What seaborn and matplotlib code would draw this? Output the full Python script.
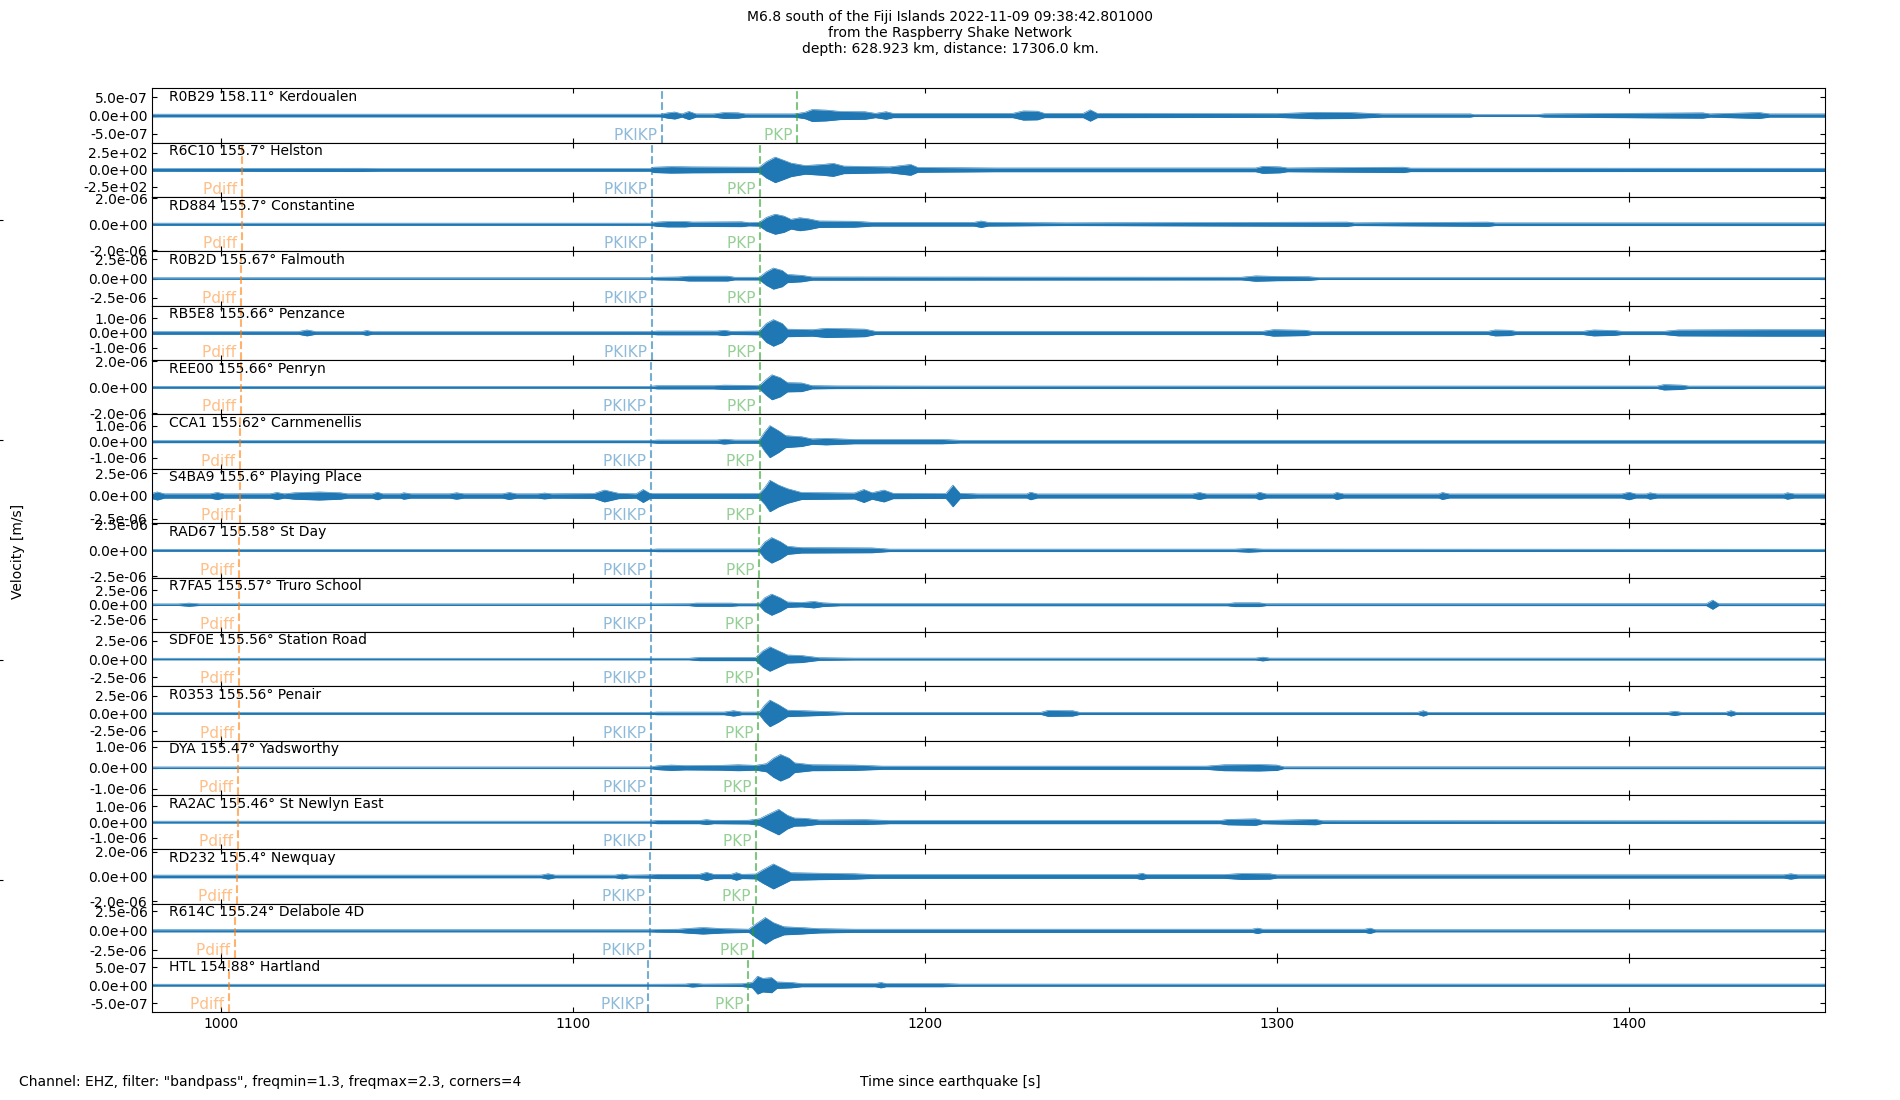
import numpy as np
import matplotlib
matplotlib.use("Agg")
import matplotlib.pyplot as plt
from matplotlib.ticker import FormatStrFormatter
import seaborn as sns

plt.rcParams['font.family'] = ['DejaVu Sans']

# station metadata, top to bottom
stations = ["R0B29", "R6C10", "RD884", "R0B2D", "RB5E8", "REE00", "CCA1", "S4BA9", "RAD67",
            "R7FA5", "SDF0E", "R0353", "DYA", "RA2AC", "RD232", "R614C", "HTL"]
distances = ["158.11", "155.7", "155.7", "155.67", "155.66", "155.66", "155.62", "155.6", "155.58",
             "155.57", "155.56", "155.56", "155.47", "155.46", "155.4", "155.24", "154.88"]
places = ["Kerdoualen", "Helston", "Constantine", "Falmouth", "Penzance", "Penryn", "Carnmenellis",
          "Playing Place", "St Day", "Truro School", "Station Road", "Penair", "Yadsworthy",
          "St Newlyn East", "Newquay", "Delabole 4D", "Hartland"]

# y range and tick value per station (m/s, R6C10 in counts)
y_limits = [7.4e-7, 400, 2.08e-6, 3.5e-6, 1.85e-6, 2.09e-6, 1.69e-6, 3.0e-6, 2.63e-6,
            4.74e-6, 3.68e-6, 3.9e-6, 1.3e-6, 1.72e-6, 2.19e-6, 3.47e-6, 7.5e-7]
y_ticks = [5e-7, 250, 2e-6, 2.5e-6, 1e-6, 2e-6, 1e-6, 2.5e-6, 2.5e-6,
           2.5e-6, 2.5e-6, 2.5e-6, 1e-6, 1e-6, 2e-6, 2.5e-6, 5e-7]

# predicted arrivals [s after origin]
pdiff_times = [None, 1006.0, 1006.0, 1005.8, 1005.7, 1005.7, 1005.5, 1005.4, 1005.3,
               1005.3, 1005.2, 1005.2, 1004.9, 1004.8, 1004.6, 1004.0, 1002.3]
pkikp_times = [1125.4, 1122.6, 1122.6, 1122.6, 1122.4, 1122.3, 1122.3, 1122.3, 1122.3,
               1122.2, 1122.2, 1122.2, 1122.2, 1122.1, 1122.0, 1122.0, 1121.5]
pkp_times = [1163.8, 1153.3, 1153.3, 1153.3, 1153.3, 1153.3, 1153.1, 1153.1, 1153.0,
             1152.7, 1152.6, 1152.6, 1152.2, 1152.2, 1152.0, 1151.3, 1149.8]

# trace envelopes: times [s] and half-amplitude as fraction of the y range
r0b29_t = [980, 1125, 1127, 1129, 1131, 1133, 1135, 1140, 1143, 1147, 1149, 1163, 1166, 1168, 1172, 1176,
           1183, 1186, 1189, 1191, 1225, 1228, 1232, 1234, 1245, 1247, 1249, 1300, 1311, 1321, 1330,
           1355, 1356, 1374, 1376, 1421, 1423, 1437, 1440, 1456]
r0b29_a = [0.05, 0.05, 0.10, 0.13, 0.06, 0.15, 0.06, 0.06, 0.11, 0.10, 0.06, 0.06, 0.12, 0.22, 0.20, 0.15,
           0.14, 0.08, 0.14, 0.08, 0.08, 0.17, 0.16, 0.08, 0.08, 0.21, 0.08, 0.07, 0.12, 0.11, 0.06,
           0.06, 0.035, 0.035, 0.06, 0.10, 0.06, 0.11, 0.06, 0.06]
r6c10_t = [980, 1040, 1045, 1122, 1123, 1128, 1134, 1153, 1155, 1157.5, 1160, 1162, 1166, 1171, 1174, 1177,
           1190, 1196, 1198, 1220, 1294, 1296, 1301, 1303, 1336, 1338, 1456]
r6c10_a = [0.05, 0.06, 0.05, 0.05, 0.10, 0.12, 0.11, 0.10, 0.30, 0.47, 0.35, 0.25, 0.16, 0.20, 0.24, 0.14,
           0.11, 0.20, 0.09, 0.07, 0.07, 0.13, 0.11, 0.07, 0.10, 0.065, 0.06]
rd884_t = [980, 1122, 1124, 1127, 1132, 1134, 1148, 1150, 1153, 1155, 1157.5, 1160, 1162, 1164.5, 1167,
           1170, 1180, 1185, 1214, 1216, 1218, 1240, 1320, 1322, 1360, 1362, 1456]
rd884_a = [0.04, 0.04, 0.08, 0.10, 0.10, 0.08, 0.09, 0.06, 0.07, 0.25, 0.37, 0.30, 0.18, 0.24, 0.20,
           0.12, 0.11, 0.07, 0.07, 0.12, 0.07, 0.05, 0.08, 0.05, 0.08, 0.05, 0.05]
r0b2d_t = [980, 1122, 1124, 1130, 1133, 1144, 1146, 1153, 1155, 1157, 1159.5, 1161, 1165, 1168, 1290,
           1294, 1300, 1309, 1312, 1456]
r0b2d_a = [0.03, 0.03, 0.05, 0.06, 0.09, 0.09, 0.05, 0.05, 0.25, 0.39, 0.30, 0.15, 0.12, 0.06, 0.05,
           0.10, 0.08, 0.07, 0.035, 0.035]
rb5e8_t = [980, 1022, 1024.5, 1027, 1040, 1041.5, 1043, 1122, 1124, 1141, 1143, 1145, 1153, 1155, 1157,
           1159.5, 1161, 1168, 1172, 1183, 1186, 1296, 1299, 1308, 1310, 1360, 1362, 1366, 1368, 1387,
           1390, 1396, 1398, 1410, 1414, 1440, 1456]
rb5e8_a = [0.05, 0.05, 0.11, 0.05, 0.05, 0.09, 0.05, 0.05, 0.07, 0.07, 0.10, 0.06, 0.07, 0.35, 0.49,
           0.35, 0.14, 0.12, 0.17, 0.14, 0.06, 0.06, 0.12, 0.10, 0.06, 0.06, 0.11, 0.10, 0.06, 0.06,
           0.11, 0.09, 0.06, 0.06, 0.11, 0.12, 0.12]
ree00_t = [980, 1122, 1124, 1140, 1143, 1150, 1153, 1155, 1156.6, 1159, 1161, 1165, 1168, 1175, 1200,
           1408, 1410, 1415, 1417, 1456]
ree00_a = [0.035, 0.035, 0.06, 0.06, 0.08, 0.07, 0.06, 0.30, 0.46, 0.35, 0.17, 0.16, 0.06, 0.05, 0.045,
           0.045, 0.10, 0.08, 0.045, 0.045]
cca1_t = [980, 1122, 1124, 1141, 1143, 1146, 1153, 1154.5, 1156, 1158.5, 1160.5, 1165, 1168, 1172, 1180,
          1205, 1210, 1456]
cca1_a = [0.04, 0.04, 0.06, 0.06, 0.09, 0.06, 0.06, 0.35, 0.59, 0.40, 0.22, 0.18, 0.10, 0.12, 0.08,
          0.08, 0.05, 0.05]
s4ba9_t = [980, 982, 984, 997, 999, 1001, 1014, 1016, 1018, 1021, 1028, 1034, 1036, 1043, 1044.5, 1046,
           1051, 1052, 1054, 1065, 1067, 1069, 1080, 1082, 1084, 1090, 1092, 1094, 1106, 1109, 1113, 1118,
           1120, 1122, 1153, 1154.5, 1156, 1158.5, 1161, 1165, 1180, 1182.7, 1185, 1188.4, 1191, 1206,
           1208, 1210, 1215, 1229, 1230, 1232, 1276, 1278, 1280, 1294, 1295, 1297, 1316, 1317, 1319,
           1346, 1347, 1349, 1398, 1400, 1402, 1405, 1406, 1408, 1444, 1445, 1447, 1456]
s4ba9_a = [0.08, 0.15, 0.08, 0.08, 0.13, 0.08, 0.08, 0.13, 0.08, 0.12, 0.15, 0.12, 0.08, 0.08, 0.14, 0.08,
           0.08, 0.12, 0.08, 0.08, 0.12, 0.08, 0.08, 0.13, 0.08, 0.08, 0.11, 0.08, 0.09, 0.22, 0.10, 0.08,
           0.24, 0.09, 0.09, 0.30, 0.58, 0.40, 0.27, 0.13, 0.11, 0.24, 0.12, 0.22, 0.10, 0.09,
           0.40, 0.10, 0.075, 0.075, 0.14, 0.075, 0.075, 0.13, 0.075, 0.075, 0.14, 0.075, 0.075, 0.13, 0.075,
           0.075, 0.13, 0.075, 0.075, 0.14, 0.075, 0.075, 0.12, 0.075, 0.075, 0.12, 0.075, 0.075]
rad67_t = [980, 1122, 1124, 1153, 1154.5, 1156.5, 1159, 1161, 1165, 1185, 1190, 1288, 1292, 1296, 1456]
rad67_a = [0.035, 0.035, 0.05, 0.05, 0.30, 0.47, 0.32, 0.15, 0.10, 0.09, 0.045, 0.045, 0.07, 0.045, 0.04]
r7fa5_t = [980, 988, 991, 994, 1122, 1133, 1135, 1145, 1147, 1153, 1154.5, 1156.5, 1159, 1161, 1165,
           1168.5, 1171, 1176, 1286, 1288, 1295, 1297, 1422, 1423.8, 1425.5, 1456]
r7fa5_a = [0.03, 0.03, 0.06, 0.03, 0.03, 0.035, 0.06, 0.06, 0.04, 0.04, 0.25, 0.39, 0.25, 0.10, 0.08,
           0.12, 0.07, 0.04, 0.04, 0.07, 0.07, 0.035, 0.035, 0.17, 0.035, 0.035]
sdf0e_t = [980, 1122, 1133, 1136, 1152, 1154, 1156, 1158.5, 1161, 1165, 1170, 1180, 1294, 1296, 1298, 1456]
sdf0e_a = [0.03, 0.03, 0.03, 0.06, 0.06, 0.30, 0.45, 0.30, 0.15, 0.13, 0.05, 0.035, 0.035, 0.07, 0.035,
           0.035]
r0353_t = [980, 1122, 1124, 1143, 1145.7, 1148, 1153, 1154.5, 1156, 1158.5, 1161, 1170, 1178, 1233, 1235,
           1242, 1244, 1340, 1341.6, 1343, 1411, 1413, 1415, 1427.5, 1429, 1430.5, 1456]
r0353_a = [0.035, 0.035, 0.05, 0.05, 0.10, 0.05, 0.05, 0.30, 0.49, 0.32, 0.12, 0.08, 0.04, 0.04, 0.11,
           0.10, 0.04, 0.04, 0.10, 0.04, 0.04, 0.08, 0.04, 0.04, 0.10, 0.04, 0.04]
dya_t = [980, 1122, 1124, 1128, 1132, 1142, 1147, 1152, 1155, 1157, 1159, 1161.5, 1163, 1168, 1180, 1188,
         1280, 1285, 1295, 1300, 1302, 1456]
dya_a = [0.03, 0.03, 0.07, 0.10, 0.08, 0.09, 0.11, 0.09, 0.15, 0.35, 0.49, 0.35, 0.18, 0.11, 0.10, 0.06,
         0.06, 0.11, 0.12, 0.10, 0.035, 0.035]
ra2ac_t = [980, 1122, 1124, 1136, 1138, 1140, 1150, 1153, 1155, 1158.5, 1161, 1163, 1166, 1170, 1183,
           1190, 1284, 1286, 1294, 1296, 1311, 1313, 1456]
ra2ac_a = [0.035, 0.035, 0.06, 0.06, 0.09, 0.06, 0.07, 0.12, 0.25, 0.47, 0.25, 0.15, 0.14, 0.08, 0.09,
           0.06, 0.06, 0.10, 0.12, 0.06, 0.10, 0.05, 0.045]
rd232_t = [980, 1091, 1093, 1095, 1112, 1114, 1116, 1122, 1124, 1136, 1138, 1140, 1145, 1146.5, 1148,
           1152, 1154, 1157, 1159.5, 1162, 1170, 1180, 1186, 1260, 1261.7, 1263, 1285, 1290, 1298, 1300,
           1444, 1446, 1448, 1456]
rd232_a = [0.05, 0.05, 0.10, 0.05, 0.05, 0.09, 0.05, 0.06, 0.08, 0.08, 0.15, 0.08, 0.08, 0.14, 0.08,
           0.09, 0.25, 0.46, 0.30, 0.14, 0.12, 0.10, 0.07, 0.07, 0.12, 0.07, 0.07, 0.11, 0.10, 0.06,
           0.06, 0.10, 0.06, 0.06]
r614c_t = [980, 1122, 1124, 1130, 1133, 1137, 1143, 1150, 1152, 1154.7, 1157, 1160, 1165, 1170, 1180,
           1293, 1294.5, 1296, 1325, 1326.5, 1328, 1456]
r614c_a = [0.04, 0.04, 0.05, 0.06, 0.09, 0.12, 0.08, 0.06, 0.25, 0.49, 0.30, 0.15, 0.12, 0.08, 0.06,
           0.06, 0.10, 0.06, 0.06, 0.10, 0.04, 0.04]
htl_t = [980, 1122, 1132, 1134, 1137, 1148, 1151, 1152.5, 1154, 1156.5, 1158, 1162, 1165, 1186, 1187.5,
         1189, 1205, 1210, 1456]
htl_a = [0.035, 0.035, 0.04, 0.07, 0.04, 0.05, 0.10, 0.33, 0.25, 0.28, 0.12, 0.10, 0.06, 0.06, 0.10,
         0.06, 0.06, 0.04, 0.04]

env_times = [r0b29_t, r6c10_t, rd884_t, r0b2d_t, rb5e8_t, ree00_t, cca1_t, s4ba9_t, rad67_t,
             r7fa5_t, sdf0e_t, r0353_t, dya_t, ra2ac_t, rd232_t, r614c_t, htl_t]
env_amps = [r0b29_a, r6c10_a, rd884_a, r0b2d_a, rb5e8_a, ree00_a, cca1_a, s4ba9_a, rad67_a,
            r7fa5_a, sdf0e_a, r0353_a, dya_a, ra2ac_a, rd232_a, r614c_a, htl_a]

x_ticks = [1000, 1100, 1200, 1300, 1400]

palette = sns.color_palette("tab10")
trace_color = palette[0]
phase_colors = {"Pdiff": palette[1], "PKIKP": palette[0], "PKP": palette[2]}

fig, axes = plt.subplots(len(stations), 1, figsize=(19, 11), dpi=100, sharex=True,
                         gridspec_kw={"hspace": 0})
fig.subplots_adjust(left=0.0802, right=0.9603, top=0.9197, bottom=0.0797)

for i, ax in enumerate(axes):
    t = np.array(env_times[i], dtype=float)
    a = np.array(env_amps[i]) * y_limits[i]
    ax.fill_between(t, -a, a, color=trace_color, lw=0, zorder=2)
    sns.lineplot(x=t, y=a, ax=ax, color=trace_color, lw=0.4, zorder=2)
    sns.lineplot(x=t, y=-a, ax=ax, color=trace_color, lw=0.4, zorder=2)

    # phase arrivals
    for name, tp in (("Pdiff", pdiff_times[i]), ("PKIKP", pkikp_times[i]), ("PKP", pkp_times[i])):
        if tp is None:
            continue
        ax.axvline(tp, color=phase_colors[name], alpha=0.6, ls="--", lw=1.5, zorder=3)
        ax.text(tp, -y_limits[i], name + " ", color=phase_colors[name], alpha=0.5,
                fontsize=11, ha="right", va="bottom")

    ax.text(0.01, 0.97, f"{stations[i]} {distances[i]}° {places[i]}", transform=ax.transAxes,
            va="top", ha="left", fontsize=10)

    ax.set_ylim(-y_limits[i], y_limits[i])
    ax.set_yticks([-y_ticks[i], 0, y_ticks[i]])
    ax.yaxis.set_major_formatter(FormatStrFormatter("%.1e"))
    ax.set_xlim(980.6, 1455.6)
    ax.set_xticks(x_ticks)
    ax.tick_params(direction="in", top=True, right=True, labelsize=10)
    ax.set_xlabel("")
    ax.set_ylabel("")

# background axes (only its left ticks show at the figure edge)
bg = fig.add_axes([0, 0, 1, 1], frameon=False, zorder=-1)
bg.set_xlim(0, 1)
bg.set_ylim(0, 1)
bg.set_xticks([])
bg.set_yticks([0.2, 0.4, 0.6, 0.8])
bg.set_yticklabels([])
bg.tick_params(axis="y", direction="inout", length=4)

fig.suptitle("M6.8 south of the Fiji Islands 2022-11-09 09:38:42.801000\n"
             "from the Raspberry Shake Network\n"
             "depth: 628.923 km, distance: 17306.0 km.", fontsize=10, y=0.991)
fig.text(0.0095, 0.499, "Velocity [m/s]", rotation=90, ha="center", va="center", fontsize=10)
fig.text(0.5, 0.0165, "Time since earthquake [s]", ha="center", va="center", fontsize=10)
fig.text(0.0098, 0.0165, 'Channel: EHZ, filter: "bandpass", freqmin=1.3, freqmax=2.3, corners=4',
         ha="left", va="center", fontsize=10)

fig.savefig("out.png", dpi=100)
